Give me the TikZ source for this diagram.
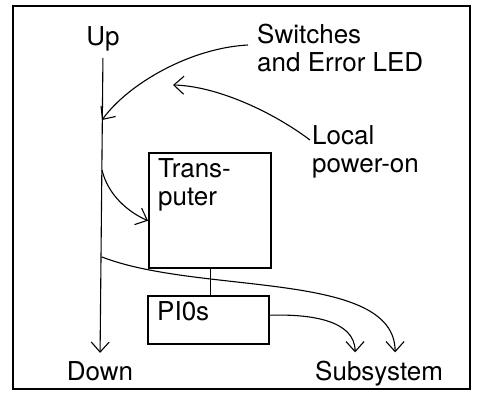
\documentclass[tikz,border=0pt]{standalone}
\usepackage{fontspec}
\setmainfont{TeX Gyre Heros}
\usetikzlibrary{positioning, arrows.meta}

\begin{document}
\begin{tikzpicture}[x=1pt, y=-1pt,
        lbl/.style={inner sep=0pt, font=\fontsize{26}{28}\selectfont, align=left},
        unit_box/.style={draw, rectangle, line width=2.4pt, anchor=north west},
        wire/.style={draw, line width=1.1pt},
        sig/.style={draw, line width=1.1pt, -{Straight Barb[length=10pt, width=18pt]}},
        frame_line/.style={draw, line width=2.6pt}
    ]
        \useasboundingbox (0,0) rectangle (478,394);
        % Outer border
        \draw[frame_line] (13,6) rectangle (470,389);

        % Bus labels
        \node[lbl, anchor=base] (up) at (103,45) {Up};
        \node[lbl, anchor=base] (down) at (100,380) {Down};
        \node[lbl, anchor=north west] (sw) at (257,24) {Switches\\and Error LED};
        \node[lbl, anchor=north west] (loc) at (312,125) {Local\\power-on};
        \node[lbl, anchor=base west] (sub) at (315,380) {Subsystem};

        % Boxes
        \node[unit_box, minimum width=122pt, minimum height=115pt] (trans) at (148,152) {};
        \node[lbl, anchor=north west] (trans_txt) at (158,158) {Trans-\\puter};
        \node[unit_box, minimum width=121pt, minimum height=48pt] (pio) at (147,295) {};
        \node[lbl, anchor=base west] (pio_txt) at (157,320) {PI0s};

        % Taps on the bus line
        \coordinate (led_in) at (102,120);
        \coordinate (cpu_tap) at (102,170);
        \coordinate (sub_tap) at (102,257);
        \coordinate (power_tip) at (173,85);

        % Connectors
        \draw[sig, shorten <=7pt, shorten >=8pt] (up.south) -- (down.north);
        \draw[sig] ([shift={(-9pt,-21pt)}]sw.north west) .. controls (190,48) and (128,84) .. (led_in);
        \draw[sig] ([shift={(-2pt,-15pt)}]loc.north west) .. controls (270,110) and (215,86) .. (power_tip);
        \draw[sig] (cpu_tap) .. controls (108,195) and (128,212) .. ([yshift=-10pt]trans.west);
        \draw[wire] (trans.south) -- (trans.south |- pio.north);
        \draw[sig] (sub_tap) .. controls (200,295) and (395,270) .. ([xshift=16pt, yshift=8pt]sub.north);
        \draw[sig] ([yshift=5pt]pio.east) .. controls (310,314) and (355,320) .. ([xshift=-24pt, yshift=8pt]sub.north);
\end{tikzpicture}
\end{document}
